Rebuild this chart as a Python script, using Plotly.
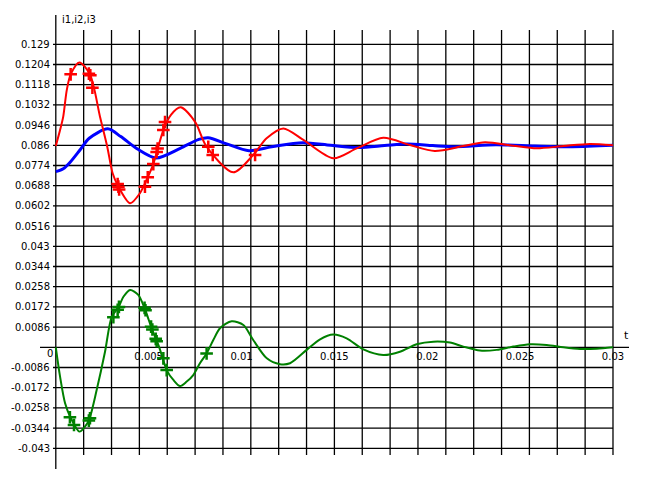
import plotly.graph_objects as go

# ---------------- data ----------------
t_i1 = [0, 0.00023, 0.0004, 0.00059, 0.0008, 0.00127, 0.00184, 0.00238, 0.00277, 0.00306,
        0.00337, 0.0040, 0.00453, 0.00495, 0.00525, 0.00579, 0.0062, 0.00672, 0.0075, 0.00812,
        0.00956, 0.01063, 0.01135, 0.01225, 0.01333, 0.01494, 0.0162, 0.01763, 0.01907, 0.0204,
        0.02194, 0.02311, 0.02463, 0.02589, 0.02733, 0.02876, 0.03]
i1 = [0.0857, 0.0925, 0.0982, 0.1095, 0.1162, 0.1213, 0.1162, 0.0982, 0.0854, 0.0741,
      0.0684, 0.0613, 0.0656, 0.0724, 0.0780, 0.0925, 0.0990, 0.1022, 0.0960, 0.0854,
      0.0745, 0.0819, 0.0890, 0.0932, 0.0883, 0.0805, 0.0847, 0.0892, 0.0861, 0.0836,
      0.0857, 0.0873, 0.0858, 0.0847, 0.0857, 0.0866, 0.0860]

t_i2 = [0, 0.0004, 0.00076, 0.0013, 0.0018, 0.0028, 0.0035, 0.0044, 0.0054, 0.0067,
        0.0077, 0.0082, 0.0092, 0.0104, 0.0117, 0.0133, 0.0148, 0.0163, 0.0177, 0.0189,
        0.0203, 0.0215, 0.0237, 0.0258, 0.0278, 0.0300]
i2 = [0.0748, 0.0760, 0.0787, 0.0840, 0.0890, 0.0930, 0.0897, 0.0844, 0.0806, 0.0847,
      0.0885, 0.0892, 0.0866, 0.0837, 0.0855, 0.0871, 0.0860, 0.0851, 0.0859, 0.0866,
      0.0859, 0.0854, 0.0862, 0.0857, 0.0854, 0.0860]

t_i3 = [0, 0.00023, 0.0005, 0.0008, 0.00127, 0.00157, 0.0018, 0.0022, 0.00265, 0.00301,
        0.00337, 0.00364, 0.0040, 0.00444, 0.0048, 0.00516, 0.00557, 0.00597, 0.00633, 0.00669,
        0.00705, 0.0074, 0.00776, 0.00812, 0.00848, 0.00884, 0.00947, 0.0101, 0.01063, 0.01136,
        0.01207, 0.01261, 0.01351, 0.01423, 0.01494, 0.01566, 0.01656, 0.01763, 0.01853, 0.01943,
        0.02033, 0.02122, 0.02194, 0.02284, 0.02374, 0.02463, 0.02553, 0.02643, 0.02733, 0.02822,
        0.02912, 0.03]
i3 = [0.0, -0.0125, -0.0238, -0.0300, -0.0359, -0.0338, -0.0307, -0.0182, -0.0019, 0.0130,
      0.0170, 0.0215, 0.0244, 0.0223, 0.0162, 0.0081, 0.0, -0.0097, -0.0139, -0.0165,
      -0.0146, -0.0118, -0.0068, -0.0026, 0.0031, 0.0081, 0.0111, 0.0095, 0.0031, -0.0047,
      -0.0072, -0.0068, -0.0011, 0.0034, 0.0054, 0.0038, -0.0009, -0.0033, -0.0019, 0.0013,
      0.0024, 0.0020, 0.0003, -0.0014, -0.0011, 0.0003, 0.0013, 0.0010, 0.0, -0.0007,
      -0.0006, 0.0]

t_i1_marks = [0.0008, 0.00178, 0.00186, 0.00197, 0.00333, 0.00337, 0.00341, 0.0048, 0.00495,
              0.00525, 0.00543, 0.00548, 0.00579, 0.00588, 0.00821, 0.00845, 0.01073]
i1_marks = [0.1162, 0.1165, 0.1158, 0.1105, 0.0695, 0.0684, 0.0672, 0.0684, 0.0724,
            0.0780, 0.0832, 0.0846, 0.0925, 0.0959, 0.0854, 0.0819, 0.0819]

t_i3_marks = [0.00076, 0.00098, 0.00178, 0.00184, 0.0031, 0.00333, 0.0034, 0.00478, 0.00483,
              0.00513, 0.0052, 0.00538, 0.00543, 0.00579, 0.00597, 0.00812]
i3_marks = [-0.0298, -0.0331, -0.0312, -0.0302, 0.0128, 0.0160, 0.0172, 0.0168, 0.0158,
            0.0088, 0.0076, 0.0036, 0.0026, -0.0047, -0.0097, -0.0026]

y_ticks = [0.129, 0.1204, 0.1118, 0.1032, 0.0946, 0.086, 0.0774, 0.0688, 0.0602, 0.0516,
           0.043, 0.0344, 0.0258, 0.0172, 0.0086, 0.0, -0.0086, -0.0172, -0.0258, -0.0344, -0.043]
y_tick_labels = ["0.129", "0.1204", "0.1118", "0.1032", "0.0946", "0.086", "0.0774", "0.0688",
                 "0.0602", "0.0516", "0.043", "0.0344", "0.0258", "0.0172", "0.0086", "",
                 "-0.0086", "-0.0172", "-0.0258", "-0.0344", "-0.043"]
x_ticks = [0.005, 0.01, 0.015, 0.02, 0.025, 0.03]
x_tick_labels = ["0.005", "0.01", "0.015", "0.02", "0.025", "0.03"]
x_grid_step = 0.0015
x_grid_count = 21

# ---------------- pixel mapping (figure = plot area) ----------------
W, H = 647, 485
PAGE_OFF = 8  # default body margin of the html page
X0PX, XS = 55.8, 18573.0
Y0PX, YS = 347.3, 2348.8


def px2x(p):
    return (p - X0PX) / XS


def px2y(p):
    return (Y0PX - p) / YS


FONT = "DejaVu Sans"
FS = 10

fig = go.Figure()

# x tick labels (under the curves)
fig.add_trace(go.Scatter(x=x_ticks, y=[px2y(357.5)] * len(x_ticks), text=x_tick_labels,
                         mode="text", textposition="middle center",
                         textfont=dict(family=FONT, size=FS, color="black"),
                         hoverinfo="skip", cliponaxis=False))

fig.add_trace(go.Scatter(x=t_i2, y=i2, mode="lines", name="i2",
                         line=dict(color="#0000ff", width=3, shape="spline", smoothing=0.8)))
fig.add_trace(go.Scatter(x=t_i1, y=i1, mode="lines", name="i1",
                         line=dict(color="#ff0000", width=2, shape="spline", smoothing=0.8)))
fig.add_trace(go.Scatter(x=t_i3, y=i3, mode="lines", name="i3",
                         line=dict(color="#008000", width=2, shape="spline", smoothing=0.8)))
fig.add_trace(go.Scatter(x=t_i1_marks, y=i1_marks, mode="markers",
                         marker=dict(symbol="cross-thin", size=9, color="#ff0000",
                                     line=dict(color="#ff0000", width=2.5))))
fig.add_trace(go.Scatter(x=t_i3_marks, y=i3_marks, mode="markers",
                         marker=dict(symbol="cross-thin", size=9, color="#008000",
                                     line=dict(color="#008000", width=2.5))))

shapes = []
LW = 1.3
for k in range(1, x_grid_count):
    xg = k * x_grid_step
    shapes.append(dict(type="line", xref="x", yref="y", x0=xg, x1=xg,
                       y0=px2y(455), y1=px2y(30), line=dict(color="black", width=LW), layer="below"))
# y axis
shapes.append(dict(type="line", xref="x", yref="y", x0=0, x1=0,
                   y0=px2y(469), y1=px2y(15), line=dict(color="black", width=LW), layer="below"))
for yt in y_ticks:
    if yt == 0:
        x0, x1 = px2x(40), px2x(629)
    else:
        x0, x1 = px2x(53), x_grid_step * (x_grid_count - 1)
    shapes.append(dict(type="line", xref="x", yref="y", x0=x0, x1=x1, y0=yt, y1=yt,
                       line=dict(color="black", width=LW), layer="below"))

annotations = []
for yt, lab in zip(y_ticks, y_tick_labels):
    if lab:
        annotations.append(dict(x=px2x(52), y=yt, xref="x", yref="y", text=lab, showarrow=False,
                                xanchor="right", yanchor="middle",
                                font=dict(family=FONT, size=FS, color="black")))
annotations.append(dict(x=px2x(55), y=px2y(353.3), xref="x", yref="y", text="0", showarrow=False,
                        xanchor="right", yanchor="middle", font=dict(family=FONT, size=FS, color="black")))
annotations.append(dict(x=px2x(626), y=px2y(335.7), xref="x", yref="y", text="t", showarrow=False,
                        xanchor="center", yanchor="middle", font=dict(family=FONT, size=FS + 1, color="black")))
annotations.append(dict(x=px2x(60), y=px2y(19.5), xref="x", yref="y", text="i1,i2,i3", showarrow=False,
                        xanchor="left", yanchor="middle", font=dict(family=FONT, size=FS, color="black")))

# the page shifts the figure by PAGE_OFF; compensate through the axis ranges
fig.update_layout(
    width=W, height=H, margin=dict(l=0, r=0, t=0, b=0, pad=0),
    paper_bgcolor="white", plot_bgcolor="white", showlegend=False,
    xaxis=dict(visible=False, range=[px2x(PAGE_OFF), px2x(W + PAGE_OFF)], fixedrange=True),
    yaxis=dict(visible=False, range=[px2y(H + PAGE_OFF), px2y(PAGE_OFF)], fixedrange=True),
    shapes=shapes, annotations=annotations,
)

fig.write_html("out.html", config={"displayModeBar": False})
